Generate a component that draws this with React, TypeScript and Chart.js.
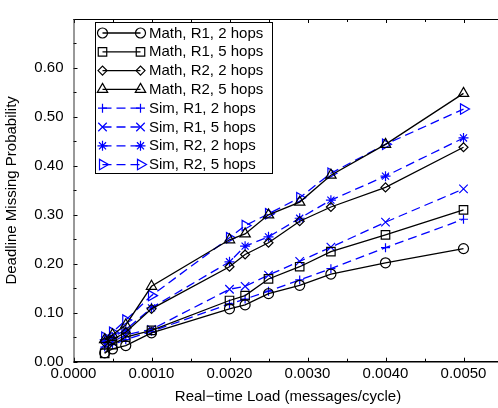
import React, { useEffect, useRef } from 'react';
import { Chart, registerables } from 'chart.js';
import { drawPoint } from 'chart.js/helpers';

Chart.register(...registerables);

const loads = [0.0004, 0.0005, 0.00067, 0.001, 0.002, 0.0022, 0.0025, 0.0029, 0.0033, 0.004, 0.005];

const mathR1h2 = [0.018, 0.026, 0.033, 0.059, 0.108, 0.116, 0.139, 0.156, 0.179, 0.202, 0.231];
const mathR1h5 = [0.017, 0.035, 0.05, 0.064, 0.125, 0.135, 0.169, 0.194, 0.225, 0.259, 0.31];
const mathR2h2 = [0.04, 0.045, 0.06, 0.108, 0.194, 0.219, 0.243, 0.287, 0.316, 0.356, 0.438];
const mathR2h5 = [0.045, 0.055, 0.075, 0.154, 0.249, 0.261, 0.3, 0.326, 0.381, 0.444, 0.548];
const simR1h2 = [0.03, 0.035, 0.045, 0.062, 0.118, 0.128, 0.144, 0.167, 0.19, 0.233, 0.291];
const simR1h5 = [0.035, 0.04, 0.055, 0.066, 0.148, 0.154, 0.177, 0.205, 0.234, 0.285, 0.353];
const simR2h2 = [0.045, 0.05, 0.065, 0.11, 0.204, 0.236, 0.255, 0.293, 0.33, 0.379, 0.457];
const simR2h5 = [0.05, 0.06, 0.085, 0.135, 0.253, 0.278, 0.302, 0.335, 0.385, 0.444, 0.516];

const seriesLabels = [
  'Math, R1, 2 hops',
  'Math, R1, 5 hops',
  'Math, R2, 2 hops',
  'Math, R2, 5 hops',
  'Sim, R1, 2 hops',
  'Sim, R1, 5 hops',
  'Sim, R2, 2 hops',
  'Sim, R2, 5 hops',
];
const seriesValues = [mathR1h2, mathR1h5, mathR2h2, mathR2h5, simR1h2, simR1h5, simR2h2, simR2h5];

const xTickValues = [0, 0.001, 0.002, 0.003, 0.004, 0.005];
const yTickValues = [0, 0.1, 0.2, 0.3, 0.4, 0.5, 0.6];

const xTitle = 'Real\u2212time Load (messages/cycle)';
const yTitle = 'Deadline Missing Probability';

const FONT = '"Liberation Sans", Arial, Helvetica, sans-serif';
const BLUE = '#0000ff';
const DASH = [9, 5];

const styles = [
  { pointStyle: 'circle', color: '#000', dash: [] as number[], r: 5, rot: 0 },
  { pointStyle: 'rect', color: '#000', dash: [] as number[], r: 6, rot: 0 },
  { pointStyle: 'rectRot', color: '#000', dash: [] as number[], r: 4.5, rot: 0 },
  { pointStyle: 'triangle', color: '#000', dash: [] as number[], r: 6, rot: 0 },
  { pointStyle: 'cross', color: BLUE, dash: DASH, r: 4.5, rot: 0 },
  { pointStyle: 'crossRot', color: BLUE, dash: DASH, r: 6, rot: 0 },
  { pointStyle: 'star', color: BLUE, dash: DASH, r: 5, rot: 0 },
  { pointStyle: 'triangle', color: BLUE, dash: DASH, r: 6, rot: 90 },
];

const framePlugin = {
  id: 'matlabFrame',
  afterDraw(chart: any) {
    const ctx = chart.ctx as CanvasRenderingContext2D;
    const { left, right, top, bottom } = chart.chartArea;
    const xs = chart.scales.x;
    const ys = chart.scales.y;
    ctx.save();
    ctx.setLineDash([]);
    ctx.strokeStyle = '#000';
    ctx.lineWidth = 1;
    for (let i = 0; i <= 11; i++) {
      const v = i * 0.0005;
      const px = Math.round(xs.getPixelForValue(v)) + 0.5;
      const len = i % 2 === 0 ? 4 : 3;
      ctx.beginPath();
      ctx.moveTo(px, bottom);
      ctx.lineTo(px, bottom - len);
      ctx.moveTo(px, top);
      ctx.lineTo(px, top + len);
      ctx.stroke();
    }
    for (let i = 0; i <= 14; i++) {
      const v = i * 0.05;
      const py = Math.round(ys.getPixelForValue(v)) + 0.5;
      const len = i % 2 === 0 ? 4 : 3;
      ctx.beginPath();
      ctx.moveTo(left, py);
      ctx.lineTo(left + len, py);
      ctx.moveTo(right, py);
      ctx.lineTo(right - len, py);
      ctx.stroke();
    }
    ctx.lineWidth = 1;
    ctx.strokeStyle = '#000';
    ctx.beginPath();
    ctx.moveTo(left, top + 0.5);
    ctx.lineTo(right, top + 0.5);
    ctx.moveTo(right - 0.5, top);
    ctx.lineTo(right - 0.5, bottom);
    ctx.stroke();
    ctx.strokeStyle = '#333';
    ctx.beginPath();
    ctx.moveTo(left + 0.5, top);
    ctx.lineTo(left + 0.5, bottom);
    ctx.stroke();
    ctx.strokeStyle = '#000';
    ctx.lineWidth = 1.5;
    ctx.beginPath();
    ctx.moveTo(left, bottom);
    ctx.lineTo(right, bottom);
    ctx.stroke();

    // legend
    const bx = 95.5, by = 22.5, bw = 177, bh = 151;
    ctx.fillStyle = '#fff';
    ctx.fillRect(bx, by, bw, bh);
    ctx.lineWidth = 1;
    ctx.strokeStyle = '#000';
    ctx.strokeRect(bx, by, bw, bh);
    ctx.font = `15px ${FONT}`;
    ctx.textBaseline = 'middle';
    ctx.textAlign = 'left';
    seriesLabels.forEach((label, i) => {
      const st = styles[i];
      const y = 33 + i * 18.8;
      const x1 = 102.5, x2 = 140.5;
      ctx.strokeStyle = st.color;
      ctx.lineWidth = 1.3;
      ctx.setLineDash(st.dash);
      ctx.beginPath();
      ctx.moveTo(x1, y);
      ctx.lineTo(x2, y);
      ctx.stroke();
      ctx.setLineDash([]);
      ctx.fillStyle = 'rgba(0,0,0,0)';
      ctx.strokeStyle = st.color;
      ctx.lineWidth = 1.2;
      const opts = { pointStyle: st.pointStyle, radius: st.r, rotation: st.rot, borderWidth: 1.2 };
      drawPoint(ctx, opts as any, x1, y);
      drawPoint(ctx, opts as any, x2, y);
      ctx.fillStyle = '#000';
      ctx.fillText(label, 149, y + 0.5);
    });
    ctx.restore();
  },
};

export default function App() {
  const ref = useRef<HTMLCanvasElement>(null);
  useEffect(() => {
    const canvas = ref.current!;
    const datasets = seriesValues.map((vals, i) => {
      const st = styles[i];
      return {
        label: seriesLabels[i],
        data: loads.map((x, j) => ({ x, y: vals[j] })),
        borderColor: st.color,
        borderWidth: 1.3,
        borderDash: st.dash,
        pointStyle: st.pointStyle,
        pointRadius: st.r,
        pointRotation: st.rot,
        pointBorderColor: st.color,
        pointBackgroundColor: 'rgba(0,0,0,0)',
        pointBorderWidth: 1.2,
        fill: false,
        tension: 0,
      };
    });
    const chart = new Chart(canvas, {
      type: 'line',
      data: { datasets } as any,
      options: {
        responsive: false,
        animation: false,
        devicePixelRatio: 1,
        layout: { padding: { top: 7, right: 7.5, left: 0, bottom: 0 } },
        plugins: { legend: { display: false }, tooltip: { enabled: false } },
        scales: {
          x: {
            type: 'linear',
            min: 0,
            max: 0.0055,
            afterFit: (s: any) => {
              s.height = 46.3;
            },
            afterBuildTicks: (s: any) => {
              s.ticks = xTickValues.map((value) => ({ value }));
            },
            grid: { display: false, drawTicks: false },
            border: { display: false },
            ticks: {
              autoSkip: false,
              maxRotation: 0,
              padding: 3,
              color: '#000',
              font: { family: FONT, size: 15 },
              callback: (v: any) => Number(v).toFixed(4),
            },
            title: {
              display: true,
              text: xTitle,
              color: '#000',
              font: { family: FONT, size: 15 },
              padding: { top: 0, bottom: 2 },
            },
          },
          y: {
            type: 'linear',
            min: 0,
            max: 0.7,
            afterFit: (s: any) => {
              s.width = 73.5;
            },
            afterBuildTicks: (s: any) => {
              s.ticks = yTickValues.map((value) => ({ value }));
            },
            grid: { display: false, drawTicks: false },
            border: { display: false },
            ticks: {
              autoSkip: false,
              padding: 10,
              color: '#000',
              font: { family: FONT, size: 15 },
              callback: (v: any) => Number(v).toFixed(2),
            },
            title: {
              display: true,
              text: yTitle,
              color: '#000',
              font: { family: FONT, size: 15 },
              padding: { top: 3, bottom: 0 },
            },
          },
        },
      } as any,
      plugins: [framePlugin],
    });
    return () => chart.destroy();
  }, []);
  return (
    <div
      style={{
        position: 'fixed',
        left: 0,
        top: 0,
        width: 498,
        height: 408,
        overflow: 'hidden',
        background: '#fff',
      }}
    >
      <canvas ref={ref} width={510} height={408} style={{ display: 'block', width: 510, height: 408 }} />
    </div>
  );
}
